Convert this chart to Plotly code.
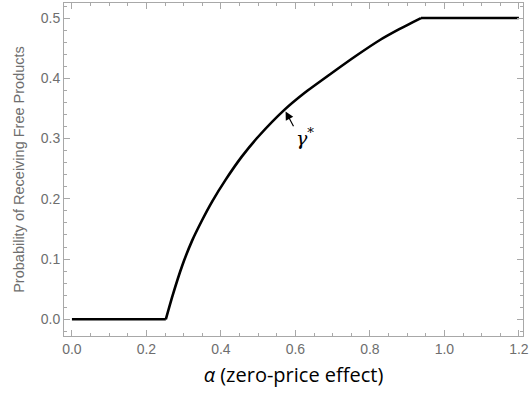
import plotly.graph_objects as go

alpha = [0.0, 0.252, 0.270, 0.296, 0.323, 0.349, 0.376, 0.412, 0.456, 0.500,
         0.571, 0.625, 0.696, 0.762, 0.828, 0.880, 0.937, 1.2]
gamma = [0.0, 0.0, 0.039, 0.089, 0.131, 0.164, 0.195, 0.231, 0.270, 0.303,
         0.348, 0.376, 0.408, 0.437, 0.464, 0.482, 0.5, 0.5]

x_ticks = [0.0, 0.2, 0.4, 0.6, 0.8, 1.0, 1.2]
x_labels = ["0.0", "0.2", "0.4", "0.6", "0.8", "1.0", "1.2"]
y_ticks = [0.0, 0.1, 0.2, 0.3, 0.4, 0.5]
y_labels = ["0.0", "0.1", "0.2", "0.3", "0.4", "0.5"]

fig = go.Figure()
# flat parts (linear) and the rising part (smoothed)
fig.add_trace(go.Scatter(x=alpha[:2], y=gamma[:2], mode="lines",
                         line=dict(color="black", width=2.6),
                         hoverinfo="skip", showlegend=False))
fig.add_trace(go.Scatter(x=alpha[1:17], y=gamma[1:17], mode="lines",
                         line=dict(color="black", width=2.6, shape="spline", smoothing=0.5),
                         hoverinfo="skip", showlegend=False))
fig.add_trace(go.Scatter(x=alpha[16:], y=gamma[16:], mode="lines",
                         line=dict(color="black", width=2.6),
                         hoverinfo="skip", showlegend=False))

axis_common = dict(
    showline=True, linecolor="#a8a8a8", linewidth=1, mirror="ticks",
    ticks="inside", ticklen=6, tickcolor="#a8a8a8", tickwidth=1,
    showgrid=False, zeroline=False, ticklabeloverflow="allow",
    tickfont=dict(family="Liberation Sans, Arial", size=14, color="#6e6e6e"),
)

fig.update_xaxes(range=[-0.0213, 1.211], tickvals=x_ticks, ticktext=x_labels,
                 minor=dict(dtick=0.05, ticks="inside", ticklen=3, tickcolor="#a8a8a8"),
                 title=dict(text="<i>α</i> (zero-price effect)",
                            font=dict(family="Open Sans, Liberation Sans", size=20, color="black"),
                            standoff=12),
                 **axis_common)
fig.update_yaxes(range=[-0.0277, 0.525], tickvals=y_ticks, ticktext=y_labels,
                 minor=dict(dtick=0.02, ticks="inside", ticklen=3, tickcolor="#a8a8a8"),
                 title=dict(text="Probability of Receiving Free Products",
                            font=dict(family="Liberation Sans, Arial", size=14.5, color="#6e6e6e"),
                            standoff=12),
                 **axis_common)

fig.add_annotation(x=0.571, y=0.348, ax=0.597, ay=0.318, axref="x", ayref="y",
                   text="", showarrow=True, arrowhead=2, arrowsize=1.4, arrowwidth=1.2,
                   arrowcolor="black", standoff=2)
fig.add_annotation(x=0.625, y=0.303, text="<i>γ</i><sup>*</sup>", showarrow=False,
                   font=dict(family="DejaVu Serif, Liberation Serif", size=19, color="black"))

fig.update_layout(width=531, height=402, margin=dict(l=64, r=4, t=2, b=66),
                  plot_bgcolor="white", paper_bgcolor="white")

fig.write_html("out.html")
